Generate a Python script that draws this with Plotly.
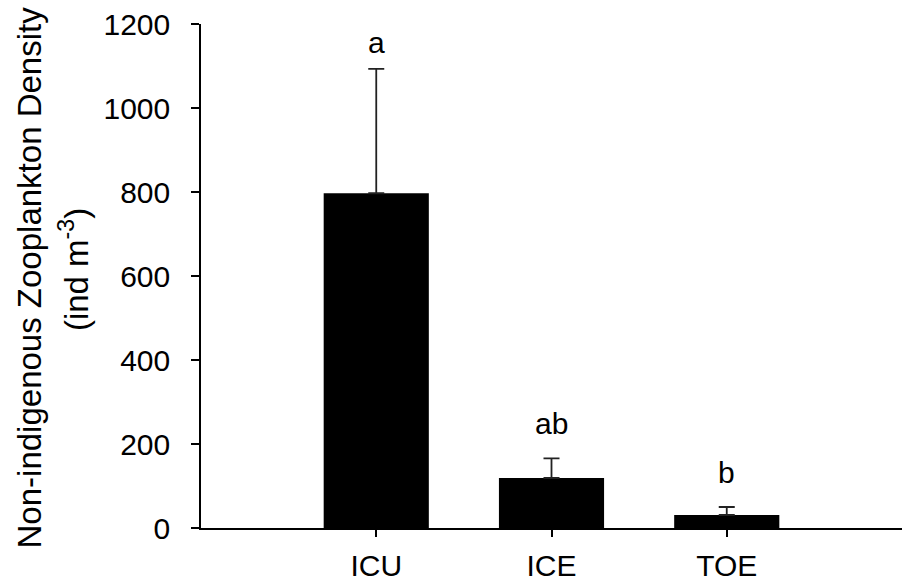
import plotly.graph_objects as go

categories = ["ICU", "ICE", "TOE"]
density = [797, 119, 31]
error_upper = [296, 47, 19]
sig_letters = ["a", "ab", "b"]
letter_y = [1157, 250, 133]

y_ticks = [0, 200, 400, 600, 800, 1000, 1200]

FONT = "Liberation Sans, Arial, sans-serif"
TICK_SIZE = 30
TITLE_SIZE = 33

fig = go.Figure()
fig.add_trace(go.Bar(
    x=categories,
    y=density,
    width=0.6,
    marker=dict(color="black", line=dict(color="black", width=0)),
    error_y=dict(type="data", symmetric=False, array=error_upper,
                 arrayminus=[0] * len(error_upper),
                 color="#222222", thickness=1.8, width=8),
    showlegend=False,
))

for c, t, yv in zip(categories, sig_letters, letter_y):
    fig.add_annotation(x=c, y=yv, text=t, showarrow=False,
                       xref="x", yref="y", yanchor="middle",
                       font=dict(family=FONT, size=TICK_SIZE, color="black"))

fig.add_annotation(x=-0.244, y=0.497, xref="paper", yref="paper",
                   text="Non-indigenous Zooplankton Density", textangle=-90,
                   showarrow=False, xanchor="center", yanchor="middle",
                   font=dict(family=FONT, size=TITLE_SIZE, color="black"))
fig.add_annotation(x=-0.181, y=0.512, xref="paper", yref="paper",
                   text="(ind m<sup>-3</sup>)", textangle=-90,
                   showarrow=False, xanchor="center", yanchor="middle",
                   font=dict(family=FONT, size=TITLE_SIZE, color="black"))

fig.update_layout(
    width=902, height=585,
    margin=dict(l=201, r=0, t=24, b=57),
    paper_bgcolor="white", plot_bgcolor="white",
    font=dict(family=FONT, size=TICK_SIZE, color="black"),
    bargap=0.4,
)
fig.update_xaxes(
    type="category", categoryorder="array", categoryarray=categories,
    range=[-1, 3], showline=True, linecolor="black", linewidth=2,
    ticks="outside", ticklen=7, tickwidth=1.5, tickcolor="black",
    showgrid=False, zeroline=False, ticklabelstandoff=3,
    tickfont=dict(family=FONT, size=TICK_SIZE, color="black"),
)
fig.update_yaxes(
    range=[0, 1200], tickvals=y_ticks, ticktext=[str(v) for v in y_ticks],
    showline=True, linecolor="black", linewidth=1.5,
    ticks="outside", ticklen=8, tickwidth=1.5, tickcolor="black",
    showgrid=False, zeroline=False, ticklabelstandoff=15,
    tickfont=dict(family=FONT, size=TICK_SIZE, color="black"),
)

fig.write_html("out.html")
